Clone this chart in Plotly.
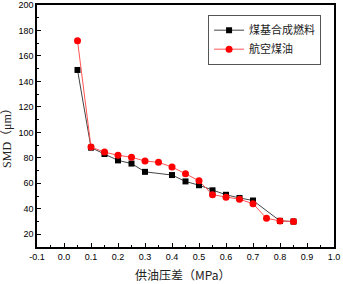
import plotly.graph_objects as go

x_coal = [0.05, 0.1, 0.15, 0.2, 0.25, 0.3, 0.4, 0.45, 0.5, 0.55, 0.6, 0.65, 0.7, 0.8, 0.85]
y_coal = [149, 88, 83, 78, 75.5, 69, 66.5, 61.5, 58.5, 54.5, 51, 48.5, 46.5, 30.5, 30]
x_jet = [0.05, 0.1, 0.15, 0.2, 0.25, 0.3, 0.35, 0.4, 0.45, 0.5, 0.55, 0.6, 0.65, 0.7, 0.75, 0.8, 0.85]
y_jet = [172, 88.5, 84.5, 82, 80.5, 77.5, 76.5, 72.8, 67.5, 62, 51, 49, 47.5, 44, 32.5, 30.5, 30]
name_coal = "煤基合成燃料"
name_jet = "航空煤油"
x_title = "供油压差（MPa）"
y_title = "SMD（μm）"
x_ticks = [-0.1, 0.0, 0.1, 0.2, 0.3, 0.4, 0.5, 0.6, 0.7, 0.8, 0.9, 1.0]
y_ticks = [20, 40, 60, 80, 100, 120, 140, 160, 180, 200]

fig = go.Figure()
fig.add_trace(go.Scatter(x=x_coal, y=y_coal, name=name_coal, mode="lines+markers",
                         line=dict(color="#444444", width=1),
                         marker=dict(symbol="square", size=6, color="black")))
fig.add_trace(go.Scatter(x=x_jet, y=y_jet, name=name_jet, mode="lines+markers",
                         line=dict(color="#ff5555", width=1),
                         marker=dict(symbol="circle", size=7, color="#ff0000")))

tickfont = dict(family="Liberation Sans, Arial", size=9, color="black")
fig.update_layout(
    width=343, height=284,
    margin=dict(l=37, r=9, t=5, b=37, autoexpand=False),
    paper_bgcolor="white", plot_bgcolor="white",
    font=dict(family="Liberation Sans, Arial", color="black"),
    legend=dict(x=0.576, y=0.96, xanchor="left", yanchor="top",
                bordercolor="#555555", borderwidth=1, bgcolor="white",
                font=dict(family="Noto Sans CJK SC", size=11, color="#222"),
                tracegroupgap=0, itemwidth=30),
    xaxis=dict(range=[-0.1, 1.0], tickvals=x_ticks,
               ticktext=[f"{v:.1f}" for v in x_ticks],
               ticks="inside", ticklen=4, tickwidth=1, tickcolor="black",
               minor=dict(dtick=0.05, tick0=0, ticks="inside", ticklen=2, tickcolor="black"),
               showline=True, linecolor="black", linewidth=1.5, mirror=True,
               showgrid=False, zeroline=False, tickfont=tickfont, automargin=False),
    yaxis=dict(range=[10, 200], tickvals=y_ticks,
               ticks="inside", ticklen=4, tickwidth=1, tickcolor="black",
               minor=dict(dtick=10, tick0=0, ticks="inside", ticklen=2, tickcolor="black"),
               showline=True, linecolor="black", linewidth=1.5, mirror=True,
               showgrid=False, zeroline=False, tickfont=tickfont, automargin=False),
    annotations=[
        dict(text=x_title, xref="paper", yref="paper", x=0.49, y=-0.07, yanchor="top",
             showarrow=False, font=dict(family="Noto Sans CJK SC", size=12, color="#222")),
        dict(text=y_title, xref="paper", yref="paper", x=-0.101, y=0.463, xanchor="center",
             yanchor="middle", textangle=-90, showarrow=False,
             font=dict(family="Liberation Serif, Noto Sans CJK SC", size=12, color="#222")),
    ],
)
fig.write_html("out.html", config={"displayModeBar": False},
               post_script="document.body.style.margin='0';document.body.style.overflow='hidden';")
